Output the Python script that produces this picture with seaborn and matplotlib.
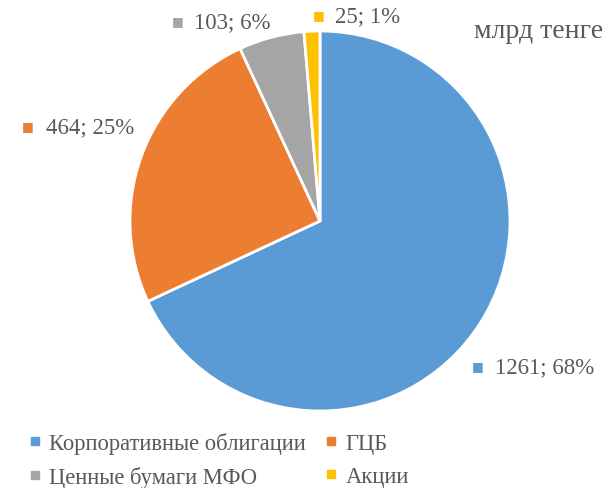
import matplotlib
matplotlib.use("Agg")
import matplotlib.pyplot as plt
import seaborn as sns
from matplotlib.lines import Line2D

# data (млрд тенге)
categories = ["Корпоративные облигации", "ГЦБ", "Ценные бумаги МФО", "Акции"]
values = [1261, 464, 103, 25]
percents = [68, 25, 6, 1]
colors = ["#5B9BD5", "#ED7D31", "#A5A5A5", "#FFC000"]
unit_label = "млрд тенге"

sns.set_theme(style="white")
plt.rcParams["font.family"] = ["Liberation Serif", "DejaVu Sans"]

W, H = 605, 489
fig = plt.figure(figsize=(W / 100, H / 100), dpi=100, facecolor="white")

# pie axes: centre ~ (320, 222) px, radius ~190 px
cx, cy, r = 320, 222, 190
ax = fig.add_axes([(cx - r) / W, 1 - (cy + r) / H, 2 * r / W, 2 * r / H])
ax.pie(values, colors=colors, startangle=90, counterclock=False,
       wedgeprops=dict(edgecolor="white", linewidth=2))
ax.set_xlim(-1, 1)
ax.set_ylim(-1, 1)
ax.set_aspect("equal")
ax.axis("off")


def px(x, y):
    return x / W, 1 - y / H


text_color = "#595959"
# data labels: (square left, text left, centre y) in pixels
label_pos = [(472, 495, 368), (22, 46, 128), (172, 194, 23), (313, 335, 17)]
for (sx, tx, ty), v, p, c in zip(label_pos, values, percents, colors):
    fig.text(*px(sx, ty - 1), "■", color=c, fontsize=9, va="center", ha="left",
             family=["DejaVu Sans"])
    fig.text(*px(tx, ty), f"{v}; {p}%", color=text_color, fontsize=16.5,
             va="center", ha="left")

fig.text(*px(603, 31), unit_label, color=text_color, fontsize=20,
         va="center", ha="right")

# legend, row-major order
handles = [Line2D([], [], marker="s", linestyle="none", markersize=6,
                  markerfacecolor=c, markeredgecolor=c) for c in colors]
order = [0, 2, 1, 3]
leg = fig.legend([handles[i] for i in order], [categories[i] for i in order],
                 ncol=2, loc="upper left", bbox_to_anchor=px(12, 417),
                 frameon=False, handlelength=0.6, handletextpad=0.35,
                 columnspacing=0.8, labelspacing=0.55, borderpad=0.2,
                 prop=dict(family="Liberation Serif", size=16.3))
for t in leg.get_texts():
    t.set_color(text_color)

fig.savefig("out.png", dpi=100, facecolor="white")
